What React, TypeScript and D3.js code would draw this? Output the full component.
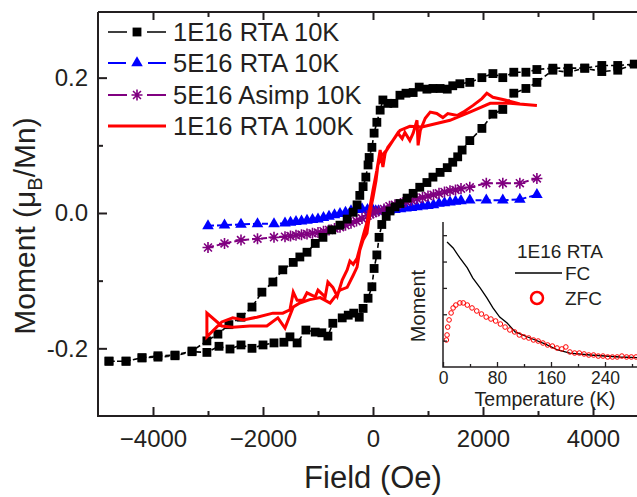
import { useEffect, useRef } from 'react'
import * as d3 from 'd3'

// 1E16 RTA 10K : full loop (ascending branch, then descending branch)
const blackField = [
  -4800, -4490, -4200, -3910, -3600, -3290, -3020, -2800, -2600, -2400, -2200, -2000, -1800, -1620, -1510, -1380,
  -1220, -1050, -930, -820, -730, -560, -450, -350, -250, -180, -90, -20, 20, 70, 110, 160, 240, 310, 400, 490, 620,
  730, 850, 980, 1090, 1220, 1350, 1450, 1540, 1620, 1760, 1980, 2180, 2360, 2560, 2780, 2980, 3270, 3550, 3850,
  4160, 4450, 4750,
  4450, 4160, 3850, 3550, 3270, 2980, 2780, 2560, 2360, 2180, 1980, 1760, 1580, 1450, 1350, 1220, 1090, 980, 840,
  730, 600, 490, 380, 270, 180, 130, 70, 20, -20, -70, -90, -130, -180, -240, -290, -360, -470, -600, -750, -910,
  -1050, -1200, -1330, -1450, -1640, -1820, -2020, -2200, -2400, -2620, -2820, -3020, -3290, -3600, -3910, -4200,
  -4490, -4800,
]
const blackMoment = [
  -0.219, -0.219, -0.214, -0.213, -0.211, -0.205, -0.206, -0.197, -0.201, -0.195, -0.2, -0.195, -0.192, -0.191,
  -0.183, -0.192, -0.173, -0.176, -0.177, -0.182, -0.163, -0.155, -0.151, -0.148, -0.154, -0.141, -0.126, -0.109,
  -0.082, -0.062, -0.036, -0.017, -0.005, 0.003, 0.009, 0.014, 0.022, 0.029, 0.038, 0.045, 0.053, 0.06, 0.067,
  0.075, 0.083, 0.093, 0.107, 0.125, 0.146, 0.153, 0.177, 0.184, 0.193, 0.211, 0.208, 0.214, 0.209, 0.211, 0.22,
  0.218, 0.218, 0.214, 0.214, 0.214, 0.212, 0.208, 0.208, 0.2, 0.206, 0.2, 0.193, 0.191, 0.188, 0.183, 0.184, 0.184,
  0.183, 0.186, 0.178, 0.177, 0.174, 0.162, 0.162, 0.167, 0.152, 0.134, 0.118, 0.097, 0.082, 0.071, 0.053, 0.039,
  0.026, 0.012, 0.001, -0.009, -0.018, -0.025, -0.036, -0.045, -0.058, -0.065, -0.073, -0.084, -0.102, -0.117,
  -0.139, -0.154, -0.165, -0.179, -0.189, -0.204, -0.21, -0.211, -0.214, -0.219, -0.219,
]

// 5E16 RTA 10K
const blueField = [
  -3000, -2700, -2400, -2100, -1800, -1600, -1500, -1400, -1300, -1200, -1100, -1000, -900, -800, -700, -600, -500,
  -400, -300, -200, -100, -50, 0, 50, 100, 200, 300, 400, 500, 600, 700, 800, 900, 1000, 1100, 1200, 1300, 1400,
  1500, 1600, 1760, 2060, 2360, 2670, 2980,
]
const blueMoment = [
  -0.019, -0.018, -0.017, -0.016, -0.016, -0.015, -0.014, -0.013, -0.012, -0.011, -0.01, -0.009, -0.007, -0.005,
  -0.003, -0.001, 0.001, 0.003, 0.005, 0.006, 0.005, 0.004, 0.004, 0.003, 0.003, 0.003, 0.004, 0.005, 0.006, 0.007,
  0.008, 0.009, 0.01, 0.011, 0.012, 0.014, 0.015, 0.016, 0.017, 0.018, 0.019, 0.019, 0.019, 0.02, 0.027,
]

// 5E16 Asimp 10K
const purpleField = blueField
const purpleMoment = [
  -0.051, -0.045, -0.04, -0.038, -0.036, -0.035, -0.034, -0.033, -0.032, -0.031, -0.03, -0.029, -0.027, -0.025,
  -0.023, -0.021, -0.018, -0.015, -0.012, -0.008, -0.004, -0.002, 0.0, 0.002, 0.003, 0.006, 0.01, 0.012, 0.014,
  0.017, 0.019, 0.021, 0.023, 0.025, 0.027, 0.029, 0.031, 0.033, 0.034, 0.036, 0.038, 0.044, 0.044, 0.044, 0.051,
]

// 1E16 RTA 100K : loop, no markers
const redField = [
  2980, 2670, 2400, 2180, 2070, 1980, 1820, 1640, 1530, 1360, 1270, 1160, 1040, 950, 860, 820, 800, 730, 670, 580,
  530, 450, 360, 270, 220, 180, 130, 70, 0, -55, -110, -180, -240, -290, -360, -420, -470, -560, -650, -730, -820,
  -870, -1000, -1050, -1200, -1270, -1380, -1450, -1510, -1640, -1820, -2110, -2360, -2550, -2750, -3020, -3020,
  -2750, -2550, -2240, -1930, -1730, -1600, -1450, -1330, -1150, -960, -780, -600, -470, -360, -290, -240, -180,
  -110, -55, 0, 55, 90, 160, 250, 360, 490, 670, 890, 1040, 1400, 1760, 2130, 2490, 2980,
]
const redMoment = [
  0.159, 0.161, 0.167, 0.171, 0.177, 0.169, 0.159, 0.149, 0.144, 0.147, 0.141, 0.147, 0.149, 0.14, 0.122, 0.1,
  0.137, 0.118, 0.107, 0.119, 0.11, 0.118, 0.107, 0.097, 0.088, 0.068, 0.093, 0.063, 0.034, 0.009, -0.014, -0.034,
  -0.052, -0.067, -0.076, -0.071, -0.084, -0.099, -0.123, -0.11, -0.102, -0.124, -0.114, -0.124, -0.118, -0.129,
  -0.129, -0.117, -0.143, -0.148, -0.148, -0.154, -0.158, -0.155, -0.161, -0.183, -0.148, -0.167, -0.169, -0.167,
  -0.167, -0.155, -0.17, -0.139, -0.133, -0.128, -0.125, -0.133, -0.114, -0.11, -0.092, -0.08, -0.055, -0.04,
  -0.03, 0.001, 0.023, 0.048, 0.071, 0.085, 0.093, 0.107, 0.122, 0.128, 0.127, 0.13, 0.137, 0.149, 0.162, 0.162,
  0.159,
]

// inset: FC / ZFC (arbitrary moment units)
const fcTemp = [6, 15, 25, 36, 44, 55, 65, 74, 84, 95, 107, 129, 151, 170, 188, 218, 262, 300]
const fcMoment = [0.948, 0.903, 0.827, 0.752, 0.676, 0.6, 0.524, 0.448, 0.379, 0.334, 0.266, 0.22, 0.175, 0.129, 0.106, 0.091, 0.076, 0.068]
const zfcTemp = [
  5, 6, 7, 9, 12, 15, 19, 25, 30, 36, 43, 50, 57, 64, 71, 78, 85, 92, 99, 106, 113, 120, 127, 134, 141, 148, 155,
  162, 169, 176, 182, 188, 195, 202, 209, 216, 223, 230, 237, 244, 251, 258, 265, 272, 279, 286, 293, 300,
]
const zfcMoment = [
  0.205, 0.243, 0.303, 0.357, 0.41, 0.448, 0.47, 0.486, 0.486, 0.47, 0.448, 0.425, 0.402, 0.379, 0.364, 0.349,
  0.326, 0.303, 0.281, 0.266, 0.243, 0.228, 0.22, 0.205, 0.197, 0.182, 0.167, 0.159, 0.144, 0.137, 0.152, 0.114,
  0.106, 0.106, 0.099, 0.091, 0.091, 0.083, 0.083, 0.076, 0.076, 0.076, 0.083, 0.076, 0.076, 0.076, 0.068, 0.068,
]

const xTicks = [-4000, -2000, 0, 2000, 4000]
const xMinor = [-3000, -1000, 1000, 3000]
const yTicks = [-0.2, 0.0, 0.2]
const yMinor = [-0.1, 0.1]
const insetTicks = [0, 80, 160, 240]
const insetMinor = [40, 120, 200, 280]
const insetYTicks = [0.2, 0.4, 0.6, 0.8, 1.0]

const legendLabels = ['1E16 RTA 10K', '5E16 RTA 10K', '5E16 Asimp 10K', '1E16 RTA 100K']

const FONT = '"Liberation Sans", Arial, Helvetica, sans-serif'
const INK = '#231f20'

export default function App() {
  const svgRef = useRef<SVGSVGElement>(null)

  useEffect(() => {
    if (!svgRef.current) return
    const svg = d3.select(svgRef.current)
    svg.selectAll('*').remove()

    const x = d3.scaleLinear().domain([-5000, 5000]).range([98, 648])
    const y = d3.scaleLinear().domain([-0.3, 0.297]).range([416, 12])

    const asterisk = (r: number) =>
      `M0,${-r}L0,${r}M${-r},0L${r},0M${-r * 0.72},${-r * 0.72}L${r * 0.72},${r * 0.72}M${-r * 0.72},${r * 0.72}L${r * 0.72},${-r * 0.72}`
    const square = d3.symbol().type(d3.symbolSquare).size(78)
    const triangle = d3.symbol().type(d3.symbolTriangle).size(58)

    const line = d3
      .line<[number, number]>()
      .x(d => x(d[0]))
      .y(d => y(d[1]))

    const zip = (a: number[], b: number[]) => a.map((v, i) => [v, b[i]] as [number, number])

    const plot = svg.append('g')

    // blue
    const blue = zip(blueField, blueMoment)
    plot.append('path').datum(blue).attr('d', line).attr('fill', 'none')
      .attr('stroke', '#0000ff').attr('stroke-width', 2).attr('stroke-dasharray', '6,3')
    plot.selectAll('.tri').data(blue).enter().append('path').attr('class', 'tri')
      .attr('d', triangle).attr('transform', d => `translate(${x(d[0])},${y(d[1])})`).attr('fill', '#0000ff')

    // purple
    const purple = zip(purpleField, purpleMoment)
    plot.append('path').datum(purple).attr('d', line).attr('fill', 'none')
      .attr('stroke', '#800080').attr('stroke-width', 2).attr('stroke-dasharray', '6,3')
    plot.selectAll('.ast').data(purple).enter().append('path').attr('class', 'ast')
      .attr('d', asterisk(5.5)).attr('transform', d => `translate(${x(d[0])},${y(d[1])})`)
      .attr('fill', 'none').attr('stroke', '#800080').attr('stroke-width', 1.6)

    // black
    const black = zip(blackField, blackMoment)
    plot.append('path').datum(black).attr('d', line).attr('fill', 'none')
      .attr('stroke', '#000').attr('stroke-width', 1.6).attr('stroke-dasharray', '5,3')
    plot.selectAll('.sq').data(black).enter().append('path').attr('class', 'sq')
      .attr('d', square).attr('transform', d => `translate(${x(d[0])},${y(d[1])})`).attr('fill', '#000')

    // red
    plot.append('path').datum(zip(redField, redMoment)).attr('d', line).attr('fill', 'none')
      .attr('stroke', '#ff0000').attr('stroke-width', 3).attr('stroke-linejoin', 'miter')

    // axes
    const styleAxis = (g: d3.Selection<SVGGElement, unknown, null, undefined>, size: number) => {
      g.select('.domain').remove()
      g.selectAll('line').attr('stroke', INK).attr('stroke-width', 2)
      g.selectAll('text').attr('fill', INK).style('font-family', FONT).style('font-size', `${size}px`)
    }
    const fmtY = (d: d3.NumberValue) => (+d).toFixed(1)

    svg.append('g').attr('transform', 'translate(0,416)')
      .call(d3.axisBottom(x).tickValues(xTicks).tickSize(-9).tickPadding(14).tickFormat(d3.format('d')))
      .call(g => styleAxis(g, 24))
    svg.append('g').attr('transform', 'translate(0,416)')
      .call(d3.axisBottom(x).tickValues(xMinor).tickSize(-5).tickFormat(() => ''))
      .call(g => styleAxis(g, 24))
    svg.append('g').attr('transform', 'translate(0,12)')
      .call(d3.axisTop(x).tickValues(xTicks).tickSize(-8).tickFormat(() => ''))
      .call(g => styleAxis(g, 24))
    svg.append('g').attr('transform', 'translate(0,12)')
      .call(d3.axisTop(x).tickValues(xMinor).tickSize(-5).tickFormat(() => ''))
      .call(g => styleAxis(g, 24))
    svg.append('g').attr('transform', 'translate(98,0)')
      .call(d3.axisLeft(y).tickValues(yTicks).tickSize(-9).tickPadding(10).tickFormat(fmtY))
      .call(g => styleAxis(g, 24))
    svg.append('g').attr('transform', 'translate(98,0)')
      .call(d3.axisLeft(y).tickValues(yMinor).tickSize(-5).tickFormat(() => ''))
      .call(g => styleAxis(g, 24))

    // frame
    svg.append('path')
      .attr('d', `M98,12L98,416L648,416M98,12L648,12`)
      .attr('fill', 'none').attr('stroke', INK).attr('stroke-width', 2)

    // axis titles
    svg.append('text').attr('x', x(0)).attr('y', 488).attr('text-anchor', 'middle')
      .style('font-family', FONT).style('font-size', '31px').attr('fill', INK).text('Field (Oe)')
    const yt = svg.append('text').attr('transform', 'translate(35,226) rotate(-90)').attr('text-anchor', 'middle')
      .style('font-family', FONT).style('font-size', '30px').attr('fill', INK)
    yt.append('tspan').text('Moment (μ')
    yt.append('tspan').attr('dy', 7).style('font-size', '20px').text('B')
    yt.append('tspan').attr('dy', -7).text('/Mn)')

    // legend
    const rowsY = [32, 63, 95, 126]
    const lg = svg.append('g')
    lg.append('path').attr('d', `M108,${rowsY[0]}H127M147,${rowsY[0]}H166`).attr('stroke', '#000').attr('stroke-width', 1.6)
    lg.append('path').attr('d', square).attr('transform', `translate(137,${rowsY[0]})`).attr('fill', '#000')
    lg.append('path').attr('d', `M108,${rowsY[1]}H126M148,${rowsY[1]}H166`).attr('stroke', '#0000ff').attr('stroke-width', 2)
    lg.append('path').attr('d', triangle).attr('transform', `translate(137,${rowsY[1]})`).attr('fill', '#0000ff')
    lg.append('path').attr('d', `M108,${rowsY[2]}H127M147,${rowsY[2]}H166`).attr('stroke', '#800080').attr('stroke-width', 2)
    lg.append('path').attr('d', asterisk(5.5)).attr('transform', `translate(137,${rowsY[2]})`)
      .attr('fill', 'none').attr('stroke', '#800080').attr('stroke-width', 1.6)
    lg.append('path').attr('d', `M108,${rowsY[3]}H166`).attr('stroke', '#ff0000').attr('stroke-width', 3)
    legendLabels.forEach((t, i) => {
      lg.append('text').attr('x', 173).attr('y', rowsY[i] + 9)
        .style('font-family', FONT).style('font-size', '25.5px').attr('fill', INK).text(t)
    })

    // ---------- inset ----------
    const xi = d3.scaleLinear().domain([0, 300]).range([443, 645.5])
    const yi = d3.scaleLinear().domain([0, 1.1]).range([367, 222])
    const inset = svg.append('g')

    inset.append('path')
      .datum(zip(fcTemp, fcMoment))
      .attr('d', d3.line<[number, number]>().x(d => xi(d[0])).y(d => yi(d[1])))
      .attr('fill', 'none').attr('stroke', '#000').attr('stroke-width', 1.3)
    inset.selectAll('.zfc').data(zip(zfcTemp, zfcMoment)).enter().append('circle').attr('class', 'zfc')
      .attr('cx', d => xi(d[0])).attr('cy', d => yi(d[1])).attr('r', 2.3)
      .attr('fill', 'none').attr('stroke', '#ff0000').attr('stroke-width', 1)

    const styleInset = (g: d3.Selection<SVGGElement, unknown, null, undefined>) => {
      g.select('.domain').remove()
      g.selectAll('line').attr('stroke', INK).attr('stroke-width', 1.3)
      g.selectAll('text').attr('fill', INK).style('font-family', FONT).style('font-size', '17.5px')
    }
    inset.append('g').attr('transform', 'translate(0,367)')
      .call(d3.axisBottom(xi).tickValues(insetTicks).tickSize(-5).tickPadding(5))
      .call(styleInset)
    inset.append('g').attr('transform', 'translate(0,367)')
      .call(d3.axisBottom(xi).tickValues(insetMinor).tickSize(-3).tickFormat(() => ''))
      .call(styleInset)
    inset.append('g').attr('transform', 'translate(443,0)')
      .call(d3.axisLeft(yi).tickValues(insetYTicks).tickSize(-4).tickFormat(() => ''))
      .call(styleInset)
    inset.append('path').attr('d', 'M443,222V367H646').attr('fill', 'none').attr('stroke', INK).attr('stroke-width', 1.5)

    inset.append('text').attr('x', 545).attr('y', 406).attr('text-anchor', 'middle')
      .style('font-family', FONT).style('font-size', '19.5px').attr('fill', INK).text('Temperature (K)')
    inset.append('text').attr('transform', 'translate(425,306) rotate(-90)').attr('text-anchor', 'middle')
      .style('font-family', FONT).style('font-size', '20px').attr('fill', INK).text('Moment')

    inset.append('text').attr('x', 517).attr('y', 258)
      .style('font-family', FONT).style('font-size', '19px').attr('fill', INK).text('1E16 RTA')
    inset.append('path').attr('d', 'M515,273H562').attr('stroke', '#000').attr('stroke-width', 1.3)
    inset.append('text').attr('x', 565).attr('y', 280)
      .style('font-family', FONT).style('font-size', '19px').attr('fill', INK).text('FC')
    inset.append('circle').attr('cx', 537).attr('cy', 298).attr('r', 6)
      .attr('fill', 'none').attr('stroke', '#ff0000').attr('stroke-width', 2.5)
    inset.append('text').attr('x', 565).attr('y', 305)
      .style('font-family', FONT).style('font-size', '19px').attr('fill', INK).text('ZFC')
  }, [])

  return (
    <svg
      ref={svgRef}
      width={637}
      height={497}
      style={{ position: 'absolute', left: 0, top: 0, background: '#fff' }}
    ></svg>
  )
}
